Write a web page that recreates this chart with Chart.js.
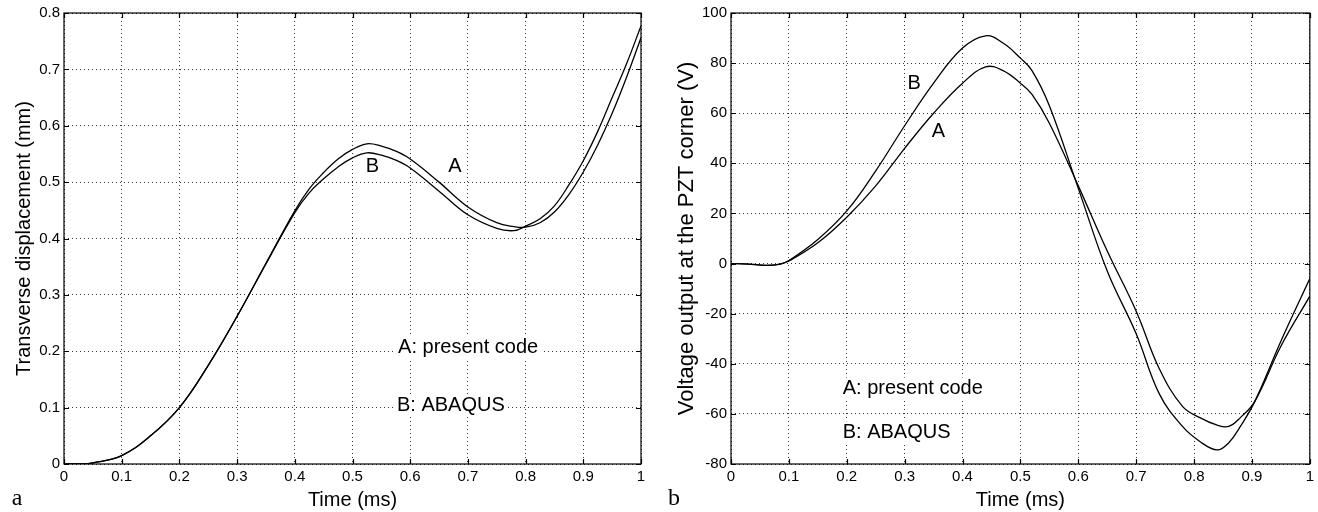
<!DOCTYPE html>
<html>
<head>
<meta charset="utf-8">
<script src="https://cdn.jsdelivr.net/npm/chart.js@4.4.1/dist/chart.umd.min.js"></script>
<style>
  html, body { margin: 0; padding: 0; background: #fff; }
  #wrap { position: relative; width: 1318px; height: 512px; }
  .box { position: absolute; top: 0; height: 512px; }
  #boxA { left: 0; width: 660px; }
  #boxB { left: 660px; width: 658px; }
</style>
</head>
<body>
<div id="wrap">
  <div class="box" id="boxA"><canvas id="chartA"></canvas></div>
  <div class="box" id="boxB"><canvas id="chartB"></canvas></div>
</div>
<script>
// panel a : transverse displacement (mm)
var timeA = [0, 0.03, 0.05, 0.1, 0.15, 0.2, 0.25, 0.3, 0.35, 0.4, 0.425, 0.45, 0.475, 0.5, 0.525, 0.55, 0.575, 0.6, 0.65, 0.7, 0.75, 0.78, 0.8, 0.825, 0.85, 0.875, 0.9, 0.925, 0.95, 0.975, 1.0];
var dispPresent = [0, 0, 0.002, 0.015, 0.05, 0.1, 0.175, 0.262, 0.356, 0.449, 0.488, 0.517, 0.541, 0.558, 0.568, 0.564, 0.555, 0.541, 0.5, 0.456, 0.428, 0.421, 0.42, 0.428, 0.447, 0.478, 0.518, 0.566, 0.622, 0.686, 0.756];
var dispAbaqus  = [0, 0, 0.002, 0.015, 0.05, 0.1, 0.175, 0.262, 0.355, 0.446, 0.481, 0.506, 0.527, 0.543, 0.552, 0.548, 0.539, 0.525, 0.484, 0.442, 0.418, 0.414, 0.422, 0.435, 0.458, 0.495, 0.538, 0.59, 0.65, 0.71, 0.777];
var timeTicks = ['0', '0.1', '0.2', '0.3', '0.4', '0.5', '0.6', '0.7', '0.8', '0.9', '1'];
var dispTicks = ['0', '0.1', '0.2', '0.3', '0.4', '0.5', '0.6', '0.7', '0.8'];

// panel b : voltage at the PZT corner (V)
var timeB = [0, 0.03, 0.06, 0.085, 0.1, 0.15, 0.2, 0.25, 0.3, 0.35, 0.4, 0.44, 0.47, 0.5, 0.52, 0.55, 0.6, 0.65, 0.7, 0.74, 0.78, 0.81, 0.84, 0.86, 0.88, 0.905, 0.95, 1.0];
var voltPresent = [0, -0.2, -0.7, -0.2, 1, 8.3, 18.5, 31, 46, 60, 72, 78.5, 77, 72, 67.5, 56, 31, 5, -19, -42, -57, -61.5, -64.5, -65, -61.5, -55, -33, -13];
var voltAbaqus  = [0, -0.2, -0.7, -0.2, 1.2, 9.6, 21, 37, 55, 72, 86, 90.9, 88, 82, 77, 63, 30, -3, -28, -52, -65, -71, -74.4, -71.5, -65, -55, -31, -6];
var voltTicks = ['-80', '-60', '-40', '-20', '0', '20', '40', '60', '80', '100'];

var SANS = '"Liberation Sans", Arial, Helvetica, sans-serif';
var SERIF = '"Liberation Serif", "Times New Roman", serif';

function pts(xs, ys) {
  return xs.map(function (x, i) { return { x: x, y: ys[i] }; });
}

function curve(label, xs, ys) {
  return {
    label: label,
    data: pts(xs, ys),
    borderColor: '#000',
    borderWidth: 1.3,
    pointRadius: 0,
    fill: false,
    tension: 0.4
  };
}

// frame, inward ticks, notes and panel letter (matlab look)
var framePlugin = {
  id: 'frame',
  beforeDatasetsDraw: function (chart, args, opts) {
    var ctx = chart.ctx;
    var xs = chart.scales.x, ys = chart.scales.y;
    ctx.save();
    ctx.font = '20px ' + SANS;
    ctx.textBaseline = 'middle';
    ctx.textAlign = 'left';
    (opts.notes || []).forEach(function (n) {
      var px = xs.getPixelForValue(n.x), py = ys.getPixelForValue(n.y);
      var w = ctx.measureText(n.text).width;
      if (n.bg) {
        ctx.fillStyle = '#fff';
        ctx.fillRect(px - 3, py - 11, w + 6, 22);
      }
      ctx.fillStyle = '#000';
      ctx.fillText(n.text, px, py);
    });
    ctx.restore();
  },
  afterDraw: function (chart, args, opts) {
    var ctx = chart.ctx, a = chart.chartArea;
    var xs = chart.scales.x, ys = chart.scales.y;
    ctx.save();
    ctx.strokeStyle = '#000';
    ctx.lineWidth = 1.2;
    ctx.strokeRect(a.left, a.top, a.right - a.left, a.bottom - a.top);
    ctx.beginPath();
    xs.ticks.forEach(function (t) {
      var px = Math.round(xs.getPixelForValue(t.value)) + 0.5;
      ctx.moveTo(px, a.bottom); ctx.lineTo(px, a.bottom - 5);
      ctx.moveTo(px, a.top); ctx.lineTo(px, a.top + 5);
    });
    ys.ticks.forEach(function (t) {
      var py = Math.round(ys.getPixelForValue(t.value)) + 0.5;
      ctx.moveTo(a.left, py); ctx.lineTo(a.left + 5, py);
      ctx.moveTo(a.right, py); ctx.lineTo(a.right - 5, py);
    });
    ctx.stroke();
    ctx.fillStyle = '#000';
    ctx.font = '24px ' + SERIF;
    ctx.textAlign = 'center';
    ctx.textBaseline = 'alphabetic';
    ctx.fillText(opts.letter, opts.letterX, 505);
    ctx.restore();
  }
};

function axisX() {
  return {
    type: 'linear', min: 0, max: 1,
    afterFit: function (s) { s.height = 48; },
    ticks: {
      stepSize: 0.1, padding: 4, maxRotation: 0, autoSkip: false, color: '#000',
      font: { size: 15, family: SANS },
      callback: function (v) { return timeTicks[Math.round(v * 10)]; }
    },
    grid: { color: '#333', lineWidth: 1, drawTicks: false },
    border: { display: false, dash: [1, 3] },
    title: { display: true, text: 'Time (ms)', color: '#000', font: { size: 20, family: SANS }, padding: { top: 0, bottom: 0 } }
  };
}

new Chart(document.getElementById('chartA'), {
  type: 'line',
  data: { datasets: [curve('A: present code', timeA, dispPresent), curve('B: ABAQUS', timeA, dispAbaqus)] },
  options: {
    animation: false,
    responsive: true,
    maintainAspectRatio: false,
    layout: { padding: { top: 13, right: 19, bottom: 0, left: 0 } },
    plugins: {
      legend: { display: false },
      tooltip: { enabled: false },
      frame: {
        letter: 'a', letterX: 17,
        notes: [
          { text: 'A', x: 0.666, y: 0.527 },
          { text: 'B', x: 0.523, y: 0.527 },
          { text: 'A: present code', x: 0.579, y: 0.206, bg: true },
          { text: 'B: ABAQUS', x: 0.577, y: 0.104, bg: true }
        ]
      }
    },
    scales: {
      x: axisX(),
      y: {
        type: 'linear', min: 0, max: 0.8,
        afterFit: function (s) { s.width = 64; },
        ticks: {
          stepSize: 0.1, padding: 4, color: '#000',
          font: { size: 15, family: SANS },
          callback: function (v) { return dispTicks[Math.round(v * 10)]; }
        },
        grid: { color: '#333', lineWidth: 1, drawTicks: false },
        border: { display: false, dash: [1, 3] },
        title: { display: true, text: 'Transverse displacement (mm)', color: '#000', font: { size: 20, family: SANS }, padding: { top: 12, bottom: 0 } }
      }
    }
  },
  plugins: [framePlugin]
});

new Chart(document.getElementById('chartB'), {
  type: 'line',
  data: { datasets: [curve('A: present code', timeB, voltPresent), curve('B: ABAQUS', timeB, voltAbaqus)] },
  options: {
    animation: false,
    responsive: true,
    maintainAspectRatio: false,
    layout: { padding: { top: 13, right: 7, bottom: 0, left: 0 } },
    plugins: {
      legend: { display: false },
      tooltip: { enabled: false },
      frame: {
        letter: 'b', letterX: 14,
        notes: [
          { text: 'B', x: 0.305, y: 72 },
          { text: 'A', x: 0.347, y: 52.6 },
          { text: 'A: present code', x: 0.193, y: -49.9, bg: true },
          { text: 'B: ABAQUS', x: 0.193, y: -67.3, bg: true }
        ]
      }
    },
    scales: {
      x: axisX(),
      y: {
        type: 'linear', min: -80, max: 100,
        afterFit: function (s) { s.width = 71; },
        ticks: {
          stepSize: 20, padding: 4, color: '#000',
          font: { size: 15, family: SANS },
          callback: function (v) { return voltTicks[Math.round((v + 80) / 20)]; }
        },
        grid: { color: '#333', lineWidth: 1, drawTicks: false },
        border: { display: false, dash: [1, 3] },
        title: { display: true, text: 'Voltage output at the PZT corner (V)', color: '#000', font: { size: 22, family: SANS }, padding: { top: 14, bottom: 0 } }
      }
    }
  },
  plugins: [framePlugin]
});
</script>
</body>
</html>
